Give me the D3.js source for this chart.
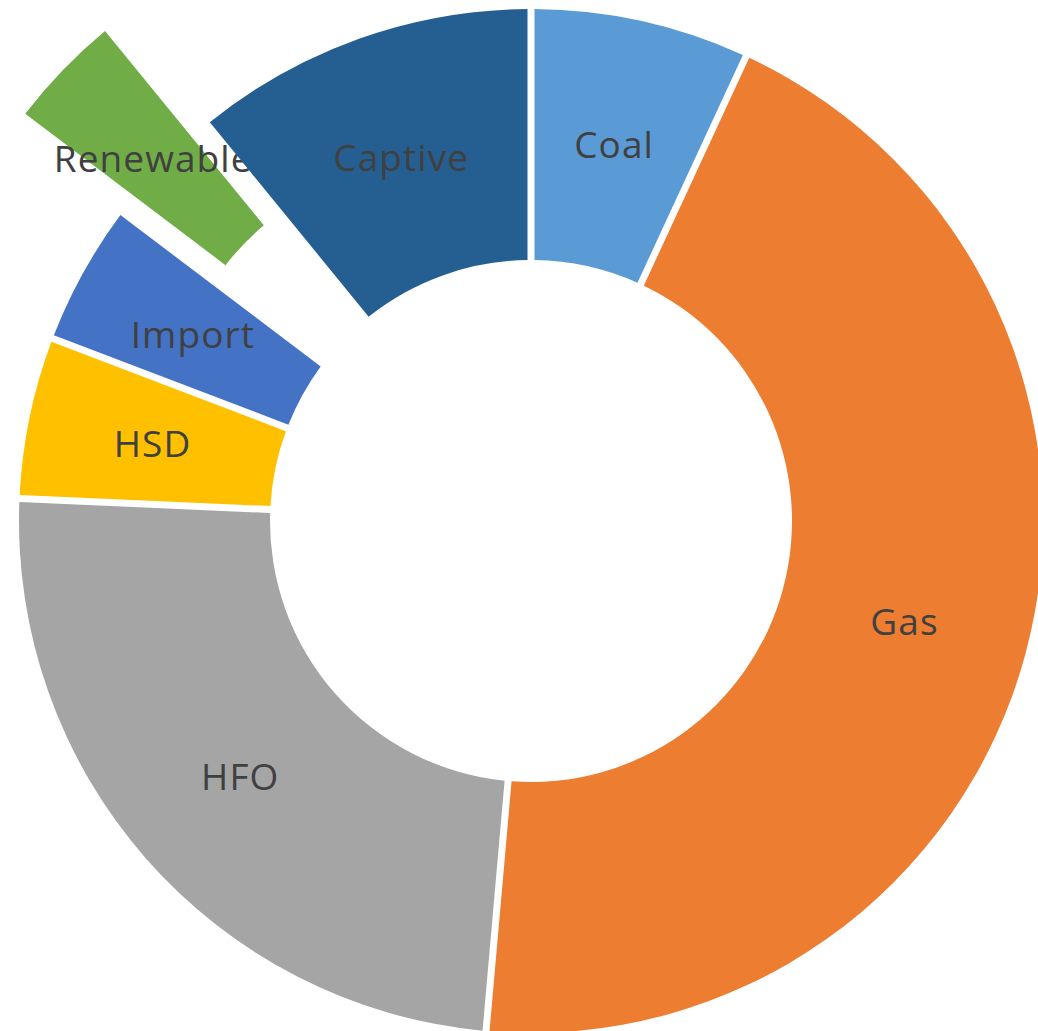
<!DOCTYPE html>
<html>
<head>
<meta charset="utf-8">
<script src="https://cdn.jsdelivr.net/npm/d3@7"></script>
<style>
  html, body { margin: 0; padding: 0; background: #ffffff; }
  svg { display: block; }
</style>
</head>
<body>
<svg id="chart" width="1038" height="1031"></svg>
<script>
const categories = ["Coal", "Gas", "HFO", "HSD", "Import", "Renewable", "Captive"];
const values = [6.9, 44.5, 24.3, 5.1, 4.5, 3.8, 10.9];
const colors = ["#5B9BD5", "#ED7D31", "#A5A5A5", "#FFC000", "#4472C4", "#70AD47", "#255E91"];
const exploded = ["Renewable"];

const width = 1038, height = 1031;
const cx = 531, cy = 521;
const outerR = 512, innerR = 261;
const explodeDist = 138;

const data = categories.map((c, i) => ({ name: c, value: values[i], color: colors[i] }));

const pie = d3.pie().value(d => d.value).sort(null).startAngle(0).endAngle(2 * Math.PI);
const arcs = pie(data);

const arc = d3.arc()
  .innerRadius(innerR)
  .outerRadius(outerR)
  .padAngle(0.07)
  .padRadius(100);

const labelArc = d3.arc().innerRadius(innerR).outerRadius(outerR);

const svg = d3.select("#chart");
const g = svg.append("g").attr("transform", `translate(${cx},${cy})`);

function offset(d) {
  if (!exploded.includes(d.data.name)) return [0, 0];
  const a = (d.startAngle + d.endAngle) / 2;
  return [Math.sin(a) * explodeDist, -Math.cos(a) * explodeDist];
}

const slices = g.selectAll("g.slice")
  .data(arcs)
  .enter()
  .append("g")
  .attr("class", "slice")
  .attr("transform", d => { const o = offset(d); return `translate(${o[0]},${o[1]})`; });

slices.append("path")
  .attr("d", arc)
  .attr("fill", d => d.data.color);

slices.append("text")
  .attr("transform", d => { const c = labelArc.centroid(d); return `translate(${c[0]},${c[1]})`; })
  .attr("text-anchor", "middle")
  .attr("dominant-baseline", "central")
  .attr("font-family", "'Open Sans', 'Noto Sans', sans-serif")
  .attr("font-size", 37)
  .attr("letter-spacing", "1.1px")
  .attr("fill", "#404040")
  .text(d => d.data.name);
</script>
</body>
</html>
